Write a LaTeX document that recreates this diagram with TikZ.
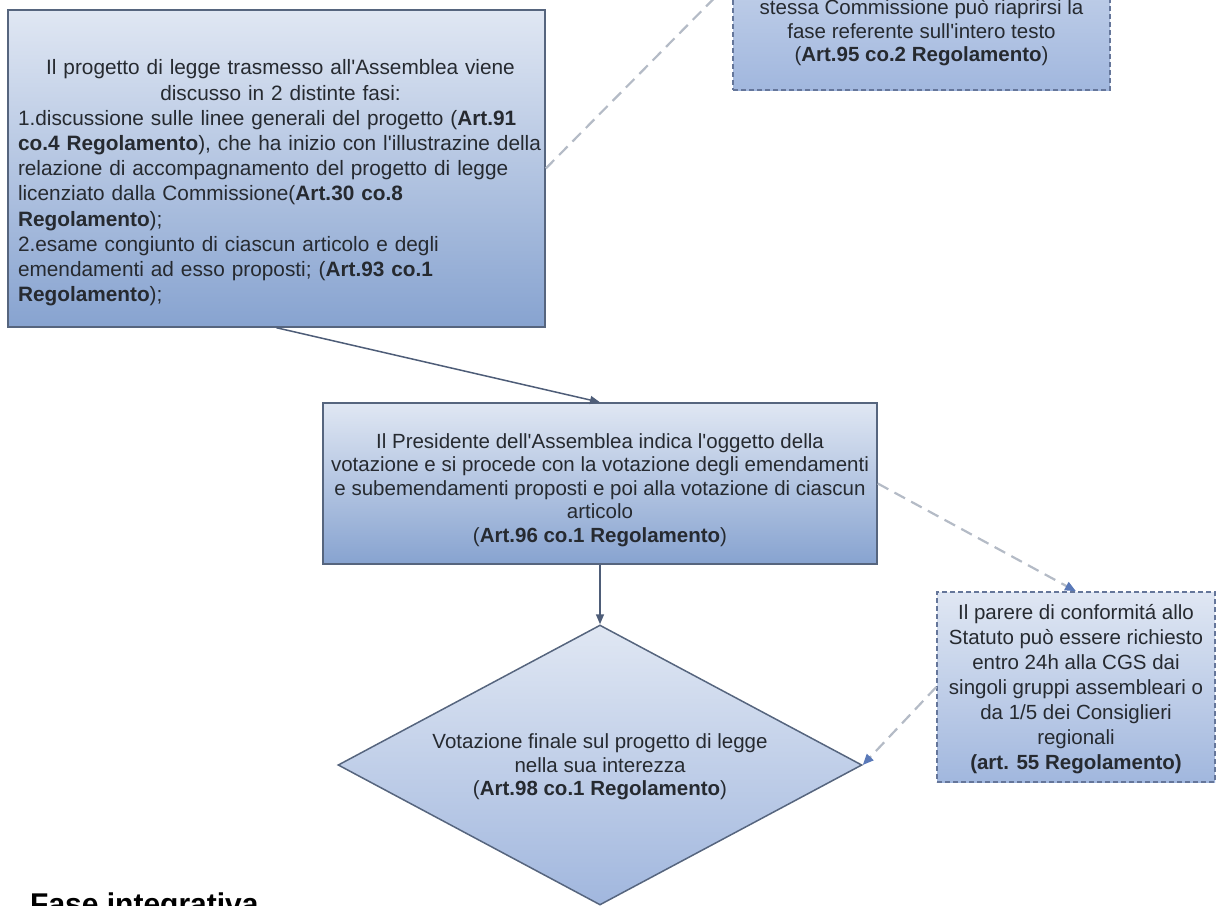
\documentclass[tikz,border=0pt]{standalone}
\usepackage{fontspec}
\setmainfont{Liberation Sans}
\usetikzlibrary{shapes.geometric,arrows.meta}

\definecolor{edgeblue}{HTML}{56657E}
\definecolor{dashedge}{HTML}{65769A}
\definecolor{topfill}{HTML}{E0E7F3}
\definecolor{botfill}{HTML}{87A3D0}
\definecolor{botlight}{HTML}{A1B7DE}
\definecolor{linkdark}{HTML}{4E5D78}
\definecolor{linkgray}{HTML}{B4BBC6}
\definecolor{tipblue}{HTML}{5A79B8}
\definecolor{inktext}{HTML}{262A30}

% straight apostrophe
\newcommand{\ap}{\textquotesingle}

\tikzset{
  solidbox/.style={rectangle, draw=edgeblue, line width=1.5pt,
    top color=topfill, bottom color=botfill, inner sep=0pt},
  dashbox/.style={rectangle, draw=dashedge, line width=1.5pt,
    dash pattern=on 5pt off 3pt, top color=topfill, bottom color=botlight,
    inner sep=0pt},
  votebox/.style={diamond, draw=edgeblue, line width=1.5pt,
    top color=topfill, bottom color=botlight, inner sep=0pt},
  txt/.style={inner sep=0pt, text=inktext, align=center,
    font=\fontsize{20.5}{23.5}\selectfont},
  flow/.style={draw=linkdark, line width=1.5pt,
    -{Triangle[length=10pt,width=8pt]}},
  optflow/.style={draw=linkgray, line width=2.2pt,
    dash pattern=on 12pt off 7pt,
    -{Triangle[length=11pt,width=9pt,color=tipblue]}}
}

\begin{document}
\begin{tikzpicture}[x=1pt,y=-1pt]
\useasboundingbox (0,0) rectangle (1220,905);
\clip (0,0) rectangle (1220,905);

% shapes
\node[solidbox, minimum width=537pt, minimum height=317pt] (b1) at (276.5,168.5) {};
\node[dashbox, minimum width=377pt, minimum height=220pt] (ref) at (921.5,-20) {};
\node[solidbox, minimum width=554pt, minimum height=161pt] (b2) at (600,483.5) {};
\node[dashbox, minimum width=278pt, minimum height=190pt] (cgs) at (1076,687) {};
\node[votebox, minimum width=524pt, minimum height=280pt] (vote) at (600,765) {};

% discussion in the Assembly
\node[txt, text width=525pt, align=left, font=\fontsize{20.8}{25.2}\selectfont]
  (b1t) at (280.5,183)
 {\makebox[525pt][c]{Il progetto di legge trasmesso all\ap Assemblea viene}\\
  \makebox[525pt][c]{discusso in 2 distinte fasi:}\\
  1.discussione sulle linee generali del progetto (\textbf{Art.91}\\
  \textbf{co.4 Regolamento}), che ha inizio con l\ap illustrazine della\\
  relazione di accompagnamento del progetto di legge\\
  licenziato dalla Commissione(\textbf{Art.30 co.8}\\
  \textbf{Regolamento});\\
  2.esame congiunto di ciascun articolo e degli\\
  emendamenti ad esso proposti; (\textbf{Art.93 co.1}\\
  \textbf{Regolamento});};

% referral back to the Commission
\node[txt] (reft) at (921.5,33)
 {stessa Commissione può riaprirsi la\\
  fase referente sull\ap intero testo\\
  (\textbf{Art.95 co.2 Regolamento})};

% voting on amendments and articles
\node[txt] (b2t) at (600,490)
 {Il Presidente dell\ap Assemblea indica l\ap oggetto della\\
  votazione e si procede con la votazione degli emendamenti\\
  e subemendamenti proposti e poi alla votazione di ciascun\\
  articolo\\
  (\textbf{Art.96 co.1 Regolamento})};

% opinion on conformity with the Statute
\node[txt, font=\fontsize{20.5}{25}\selectfont] (cgst) at (1076,689)
 {Il parere di conformitá allo\\
  Statuto può essere richiesto\\
  entro 24h alla CGS dai\\
  singoli gruppi assembleari o\\
  da 1/5 dei Consiglieri\\
  regionali\\
  \textbf{(art. 55 Regolamento)}};

% final vote
\node[txt] (votet) at (600,767)
 {Votazione finale sul progetto di legge\\
  nella sua interezza\\
  (\textbf{Art.98 co.1 Regolamento})};

% section heading
\node[anchor=base west, inner sep=0pt, text=black,
      font=\fontsize{30}{36}\selectfont\bfseries]
  (phase) at (30,914) {Fase integrativa};

% connectors
\draw[flow] (b1.south) -- (b2.north);
\draw[flow] (b2.south) -- (vote.north);
\draw[optflow] (b1.east) -- (ref.west);
\draw[optflow] (b2.east) -- (cgs.north);
\draw[optflow] (cgs.west) -- (vote.east);
\end{tikzpicture}
\end{document}
